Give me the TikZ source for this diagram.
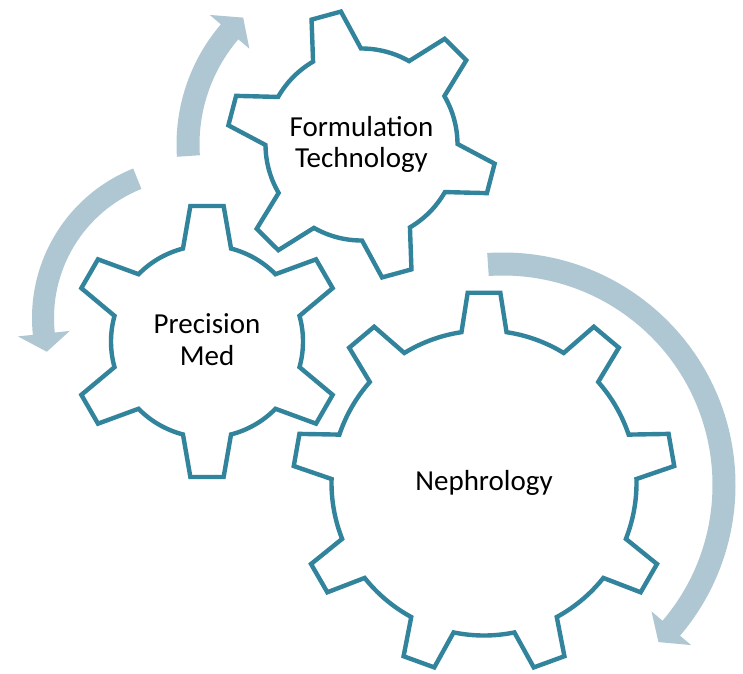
\documentclass[tikz,border=0pt]{standalone}
\usepackage{fontspec}
\setmainfont{Carlito}
\definecolor{gearc}{RGB}{49,132,155}
\definecolor{arrc}{RGB}{174,199,210}
\tikzset{
  gearline/.style={draw=gearc, line width=4.4pt, fill=white, line join=miter},
  arrowfill/.style={fill=arrc, draw=none},
  lbl/.style={font=\fontsize{29}{31.5}\selectfont, align=center, text=black, inner sep=0pt}
}
% #1 n teeth, #2 outer R, #3 body r, #4 outer half-angle, #5 base half-angle, #6 first tooth angle
\newcommand\gearpath[6]{%
  ({#6-#5}:#3) \foreach \k in {1,...,#1}{
    -- ({#6+(\k-1)*360/#1-#4}:#2) -- ({#6+(\k-1)*360/#1+#4}:#2)
    -- ({#6+(\k-1)*360/#1+#5}:#3)
    arc[start angle={#6+(\k-1)*360/#1+#5}, end angle={#6+\k*360/#1-#5}, radius=#3]} -- cycle}
% #1 mid radius, #2 half thickness, #3 head half width, #4 start angle, #5 head base angle, #6 tip angle
\newcommand\blockarrow[6]{%
  (#4:{#1+#2}) arc[start angle=#4, end angle=#5, radius={#1+#2}]
  -- (#5:{#1+#3}) -- (#6:#1) -- (#5:{#1-#3}) -- (#5:{#1-#2})
  arc[start angle=#5, end angle=#4, radius={#1-#2}] -- cycle}
\begin{document}
\begin{tikzpicture}[x=1pt,y=1pt]
\useasboundingbox (0,0) rectangle (743,673);
\fill[white] (0,0) rectangle (743,673);
% arrows
\fill[arrowfill, shift={(361.5,528.5)}] \blockarrow{173.5}{11.5}{26}{183.8}{139.5}{133};
\fill[arrowfill, shift={(193,355)}] \blockarrow{150}{11}{26}{111.8}{186}{193};
\fill[arrowfill, shift={(503,188)}] \blockarrow{221}{11.5}{26}{93.9}{-40.4}{-45.3};
% gears
\draw[gearline, shift={(484,190)}] \gearpath{9}{191}{152.5}{4.9}{8.5}{90};
\draw[gearline, shift={(207,331.5)}] \gearpath{6}{136.5}{96}{7}{14.5}{90};
\draw[gearline, shift={(361.5,528.5)}] \gearpath{6}{134.5}{96}{6.5}{15}{105.3};
% labels
\node[lbl] (form) at (361.5,528.5) {Formulation\\Technology};
\node[lbl] (prec) at (207,333.5) {Precision\\Med};
\node[lbl] (neph) at (484,190.5) {Nephrology};
\end{tikzpicture}
\end{document}
